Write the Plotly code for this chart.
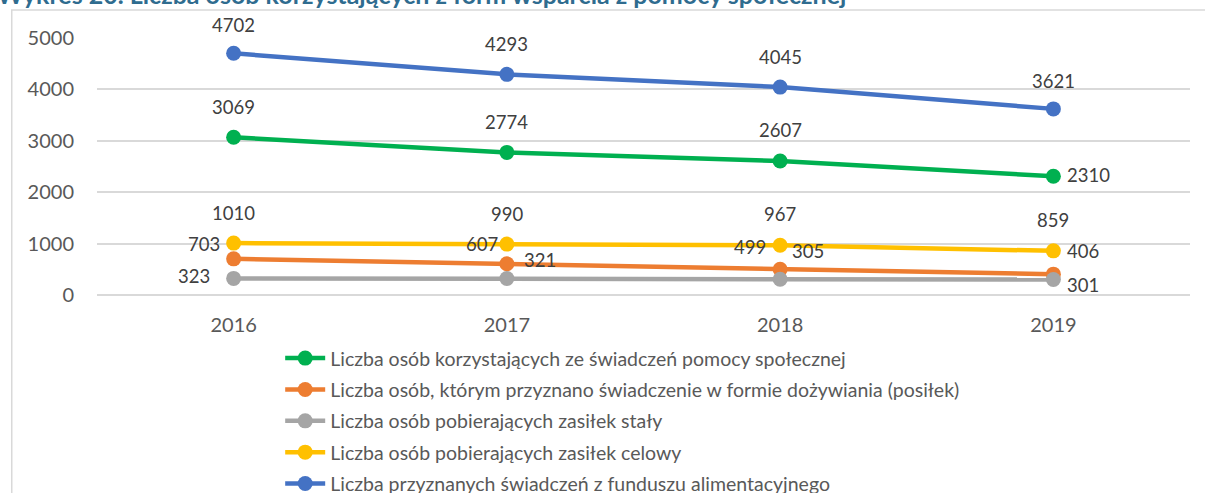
import plotly.graph_objects as go

years = ["2016", "2017", "2018", "2019"]
names = [
    "Liczba osób korzystających ze świadczeń pomocy społecznej",
    "Liczba osób, którym przyznano świadczenie w formie dożywiania (posiłek)",
    "Liczba osób pobierających zasiłek stały",
    "Liczba osób pobierających zasiłek celowy",
    "Liczba przyznanych świadczeń z funduszu alimentacyjnego",
]
pomoc_spoleczna = [3069, 2774, 2607, 2310]
dozywianie = [703, 607, 499, 406]
zasilek_staly = [323, 321, 305, 301]
zasilek_celowy = [1010, 990, 967, 859]
fundusz_alimentacyjny = [4702, 4293, 4045, 3621]
y_ticks = [0, 1000, 2000, 3000, 4000, 5000]

series = [pomoc_spoleczna, dozywianie, zasilek_staly, zasilek_celowy, fundusz_alimentacyjny]
colors = ["#00B050", "#ED7D31", "#A5A5A5", "#FFC000", "#4472C4"]

# label placement per series/point: (xanchor, xshift, yshift)
label_pos = [
    [("center", 0, 30), ("center", 0, 30), ("center", 0, 31), ("left", 12, 1)],
    [("right", -12, 15), ("right", -7, 20), ("right", -12, 22), ("left", 12, 23)],
    [("right", -22, 2), ("left", 15, 19), ("left", 10, 28), ("left", 12, -5)],
    [("center", 0, 30), ("center", 0, 30), ("center", 0, 31), ("center", 0, 31)],
    [("center", 0, 28), ("center", 0, 30), ("center", 0, 30), ("center", 0, 28)],
]

FONT = "Lato"
fig = go.Figure()
for i, (name, vals, col) in enumerate(zip(names, series, colors)):
    fig.add_trace(go.Scatter(
        x=years, y=vals, name=name, mode="lines+markers",
        line=dict(color=col, width=4.5),
        marker=dict(color=col, size=15),
        legendgroup=str(i),
    ))

annotations = []
for vals, pos in zip(series, label_pos):
    for xi, v, (xa, xs, ys) in zip(range(len(years)), vals, pos):
        annotations.append(dict(
            x=xi, y=v, xref="x", yref="y", text=str(v), showarrow=False,
            xanchor=xa, yanchor="middle", xshift=xs, yshift=ys,
            font=dict(family=FONT, size=18.5, color="#404040"),
        ))

annotations.append(dict(
    x=-0.0934, y=1.106, xref="paper", yref="paper", xanchor="left", yanchor="bottom",
    text="<b>Wykres 20. Liczba osób korzystających z form wsparcia z pomocy społecznej</b>",
    showarrow=False, font=dict(family=FONT, size=25, color="#2F6C8F"),
))

fig.update_layout(
    width=1205, height=493,
    margin=dict(l=97, r=15, t=38, b=198, autoexpand=False),
    paper_bgcolor="white", plot_bgcolor="white",
    font=dict(family=FONT, color="#595959"),
    showlegend=True,
    legend=dict(
        x=0.1676, y=-0.171, xanchor="left", yanchor="top",
        font=dict(family=FONT, size=19.5, color="#595959"),
        tracegroupgap=3, itemwidth=40, bgcolor="rgba(0,0,0,0)",
    ),
    xaxis=dict(
        type="category", range=[-0.5, 3.5], showgrid=False,
        showline=False, ticks="", tickfont=dict(family=FONT, size=20, color="#595959"),
        ticklabelstandoff=16,
    ),
    yaxis=dict(
        range=[0, 5000], tickvals=y_ticks, showgrid=True, gridcolor="#D9D9D9",
        gridwidth=1.5, zeroline=True, zerolinecolor="#D9D9D9", zerolinewidth=1.5,
        showline=False, ticks="", tickfont=dict(family=FONT, size=20, color="#595959"),
        ticklabelstandoff=22,
    ),
    annotations=annotations,
    shapes=[dict(
        type="rect", xref="paper", yref="paper",
        x0=-0.078, x1=1.2, y0=-1.0, y1=1.109,
        line=dict(color="#D9D9D9", width=1.5), fillcolor="rgba(0,0,0,0)", layer="below",
    )],
)

fig.write_html("out.html", config={"displayModeBar": False},
               post_script="document.body.style.margin='0';")
